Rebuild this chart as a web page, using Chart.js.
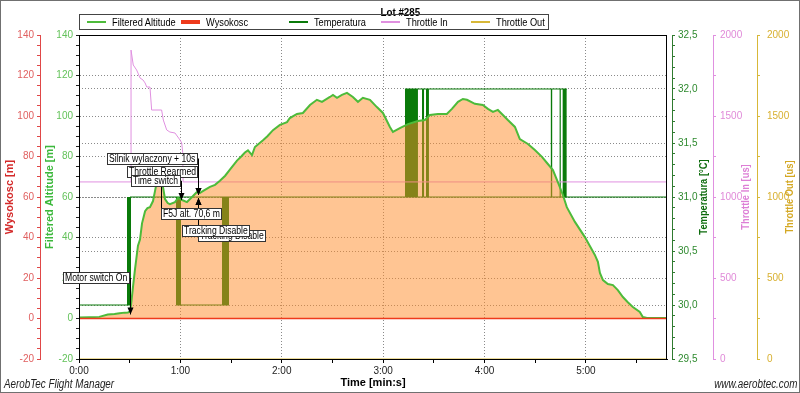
<!DOCTYPE html>
<html>
<head>
<meta charset="utf-8">
<script src="https://cdn.jsdelivr.net/npm/chart.js@4.4.1/dist/chart.umd.min.js"></script>
<style>
  body { margin: 0; background: #fff; }
  #wrap { position: relative; width: 800px; height: 393px; overflow: hidden;
          font-family: 'Liberation Sans', Arial, sans-serif; }
  #frame { position: absolute; left: 0; top: 0; width: 798px; height: 391px; border: 1px solid #707070; pointer-events: none; }
  #title { position: absolute; left: 0; width: 800px; top: 2px; text-align: center; }
  #title span { display: inline-block; font-weight: bold; font-size: 11.5px; transform: scaleX(0.85); }
  #legend { position: absolute; left: 79px; top: 14px; width: 468px; height: 14px; border: 1px solid #444; }
  .item { position: absolute; top: 0; height: 14px; font-size: 11px; line-height: 14px; white-space: nowrap; }
  .item i { position: absolute; left: 0; width: 19px; }
  .item span { position: absolute; left: 25px; transform: scaleX(0.84); transform-origin: 0 50%; }
  .rtitle { position: absolute; top: 197px; font-size: 11px; font-weight: bold; white-space: nowrap;
            transform: translate(-50%, -50%) rotate(-90deg) scaleX(0.85); }
  .foot { position: absolute; top: 377px; font-size: 12px; font-style: italic; color: #222; white-space: nowrap; }
</style>
</head>
<body>
<div id="wrap">
  <canvas id="chart" width="800" height="393"></canvas>
  <div id="title"><span>Lot #285</span></div>
  <div id="legend"></div>
  <div class="rtitle" style="left:703px;color:#0d6b0d">Temperatura [°C]</div>
  <div class="rtitle" style="left:745px;color:#dd7fd6">Throttle In [us]</div>
  <div class="rtitle" style="left:789px;color:#d4a824">Throttle Out [us]</div>
  <div class="foot" style="left:4px;transform:scaleX(0.82);transform-origin:0 0">AerobTec Flight Manager</div>
  <div class="foot" style="right:3px;transform:scaleX(0.82);transform-origin:100% 0">www.aerobtec.com</div>
  <div id="frame"></div>
</div>
<script>
const FONT = "'Liberation Sans', Arial, sans-serif";

// time in seconds
const altTime = [0, 6, 12, 17, 21, 24, 27, 29, 30.2, 30.8, 32, 33.1, 34.9, 36.1, 37.3, 39.1, 40.5, 42, 43.8, 45,
  46.7, 48.2, 49.7, 50.9, 52.5, 53.8, 56.8, 58.6, 61, 63.9, 66.9, 69.8, 71.6, 74.5, 77.5, 80.5, 83.4, 86.5, 89.3,
  93.5, 96, 98.2, 100, 102.4, 104.1, 108.9, 111.5, 114.8, 118.9, 123.1, 124.8, 129, 132.5, 136.7, 140.8, 143.8,
  148.5, 150.3, 152.7, 155.6, 158.6, 162.1, 165.1, 168, 172.2, 176.3, 179.9, 184, 185.8, 189.9, 194.7, 200.6,
  204.7, 207.7, 212.4, 217.7, 220.7, 224.3, 227.2, 229.6, 234.3, 239, 242, 245, 247.9, 250.3, 253.8, 258, 260.9,
  265.7, 269.8, 274, 277.5, 280.5, 283.4, 286.4, 288.7, 293.5, 299.4, 305.3, 307.1, 308.3, 310.1, 313, 316,
  318.9, 321.9, 324.8, 327.8, 331.9, 333.7, 336.1, 348];
const altValue = [0.5, 0.6, 0.8, 2, 2.2, 2.6, 2.9, 3, 3.5, 6.7, 16, 24, 36, 39, 47, 53, 54.5, 55, 58, 63,
  70, 71.6, 65, 59, 57, 56.5, 57.5, 59.5, 58.5, 57.5, 60, 62.5, 62, 63.5, 65, 66, 68, 70.5, 73.5,
  78, 80, 82, 83, 80.7, 84.7, 88, 90, 93, 95.6, 97, 99, 101, 101.5, 105.4, 108, 107,
  109.4, 110.4, 109, 110.4, 111.4, 109.4, 107, 109, 108, 104.4, 101.5, 94.6, 92.1, 94, 96, 97.5,
  98, 100.5, 101, 101, 103.5, 107, 108.4, 108, 106, 105.4, 103.5, 102, 103, 101, 98, 94.6, 88.6,
  86.2, 83.2, 79.8, 76.3, 73.3, 67.4, 61, 55, 47.7, 40.2, 31.4, 28, 22.5, 19, 17, 16.5,
  14, 10.6, 8, 5.7, 3.2, 0.7, 0.2, 0.2];

const wysTime = [0, 348];
const wysValue = [0, 0];

const tempTime = [0, 30.2, 30.2, 348];
const tempValue = [30, 30, 31, 31];
// second level of the temperature trace
const tempExtraTime = [57.4, 88.8, 88.8, 192.9, 288.7];
const tempExtraValue = [30, 30, null, 32, 32];
// dense switching between levels
const lowBandStart = [28.4, 57.4, 84.6];
const lowBandEnd = [30.8, 60.4, 88.8];
const highBandStart = [192.9, 203, 205.3, 279.1, 284.3, 286.1];
const highBandEnd = [200.6, 204.3, 207.1, 280.2, 285.2, 288.7];

const thrInTime = [0, 30.8, 30.8, 32.1, 34.1, 34.9, 36.1, 37.9, 39.1, 40.1, 42, 43, 48.9, 49.9, 51.9, 53.8,
  56.8, 59.8, 60.8, 61.4, 61.6, 348];
const thrInValue = [1093, 1093, 1907, 1815, 1784, 1765, 1735, 1722, 1704, 1679, 1679, 1537, 1537, 1475, 1414, 1401,
  1395, 1352, 1333, 1272, 1093, 1093];

const thrOutTime = [0, 348];
const thrOutValue = [0, 0];

const timeTickLabels = ['0:00', '1:00', '2:00', '3:00', '4:00', '5:00'];

const eventNames = ['Motor switch On', 'Silnik wylaczony + 10s', 'Throttle Rearmed', 'Time switch',
  'F5J alt. 70,6 m', 'Tracking Disable', 'Tracking Disable'];
const eventTimes = [30.2, 70.4, 70.4, 60.6, 48.3, 70.6, 70.6];
const eventAltitudes = [2, 61, 61, 58.5, 70.6, 59.5, 59.5];

const seriesNames = ['Filtered Altitude', 'Wysokosc', 'Temperatura', 'Throttle In', 'Throttle Out'];
const seriesColors = ['#4dbb3a', '#ee3a1c', '#0a7a0a', '#e090e0', '#d8b838'];

function pts(xs, ys) { return xs.map((x, i) => ({ x: x, y: ys[i] })); }
function bandPts(starts, ends, level) {
  const out = [];
  starts.forEach((s, i) => { out.push({ x: s, y: level }, { x: ends[i], y: level }, { x: ends[i], y: null }); });
  return out;
}

const base = { pointRadius: 0, tension: 0, fill: false, spanGaps: false };

const datasets = [
  { ...base, label: seriesNames[0], data: pts(altTime, altValue), yAxisID: 'yAlt',
    borderColor: seriesColors[0], borderWidth: 2, fill: 'origin', backgroundColor: 'rgba(255,140,40,0.5)' },
  { ...base, label: seriesNames[1], data: pts(wysTime, wysValue), yAxisID: 'yRed', order: -1,
    borderColor: seriesColors[1], borderWidth: 1.5 },
  { ...base, label: seriesNames[2], data: pts(tempTime, tempValue), yAxisID: 'yTemp',
    borderColor: seriesColors[2], borderWidth: 1 },
  { ...base, label: seriesNames[3], data: pts(thrInTime, thrInValue), yAxisID: 'yThrIn',
    borderColor: seriesColors[3], borderWidth: 1 },
  { ...base, label: seriesNames[4], data: pts(thrOutTime, thrOutValue), yAxisID: 'yThrOut',
    borderColor: seriesColors[4], borderWidth: 1 },
  { ...base, label: 'temp2', data: pts(tempExtraTime, tempExtraValue), yAxisID: 'yTemp',
    borderColor: seriesColors[2], borderWidth: 1 },
  { ...base, label: 'tempLow', data: bandPts(lowBandStart, lowBandEnd, 30), yAxisID: 'yTemp',
    borderWidth: 0, borderColor: 'rgba(0,0,0,0)', fill: { value: 31 }, backgroundColor: seriesColors[2] },
  { ...base, label: 'tempHigh', data: bandPts(highBandStart, highBandEnd, 32), yAxisID: 'yTemp',
    borderWidth: 0, borderColor: 'rgba(0,0,0,0)', fill: { value: 31 }, backgroundColor: seriesColors[2] }
];

// legend
const legend = document.getElementById('legend');
const legendLeft = [7, 101, 209, 301, 391];
const legendThick = [2, 4, 1.5, 1.5, 1.5];
seriesNames.forEach((n, i) => {
  const d = document.createElement('div');
  d.className = 'item';
  d.style.left = legendLeft[i] + 'px';
  d.innerHTML = '<i style="top:' + (7 - legendThick[i] / 2) + 'px;height:' + legendThick[i] + 'px;background:' +
    seriesColors[i] + '"></i><span>' + n + '</span>';
  legend.appendChild(d);
});

const clear = 'rgba(0,0,0,0)';
const isHalf = v => Math.abs(v * 2 - Math.round(v * 2)) < 1e-6;

const annotations = {
  id: 'annotations',
  afterDatasetsDraw(chart) {
    const ctx = chart.ctx, xs = chart.scales.x, ys = chart.scales.yAlt;
    const layout = [
      { labelAlt: 20, align: 'right', dx: 0 },
      { labelAlt: 79, align: 'right', dx: 0 },
      { labelAlt: 72.3, align: 'right', dx: 0 },
      { labelAlt: 68, align: 'right', dx: 0 },
      { labelAlt: 51.6, align: 'left', dx: 0 },
      { labelAlt: 40.7, align: 'left', dx: 0 },
      { labelAlt: 43.2, align: 'left', dx: -16 }
    ];
    const squeeze = 0.82;
    ctx.save();
    // frame
    const a = chart.chartArea;
    ctx.strokeStyle = '#000';
    ctx.lineWidth = 1;
    ctx.strokeRect(Math.round(a.left) + 0.5, Math.round(a.top) + 0.5, Math.round(a.right - a.left) - 1, Math.round(a.bottom - a.top));
    ctx.font = '10.5px ' + FONT;
    ctx.textBaseline = 'middle';
    eventNames.forEach((n, i) => {
      const x = Math.round(xs.getPixelForValue(eventTimes[i])) + 0.5;
      const yt = ys.getPixelForValue(eventAltitudes[i]);
      const yl = ys.getPixelForValue(layout[i].labelAlt);
      ctx.strokeStyle = '#000';
      ctx.beginPath(); ctx.moveTo(x, yl); ctx.lineTo(x, yt); ctx.stroke();
      const dir = yt > yl ? -1 : 1;
      ctx.fillStyle = '#000';
      ctx.beginPath(); ctx.moveTo(x, yt); ctx.lineTo(x - 3, yt + dir * 7); ctx.lineTo(x + 3, yt + dir * 7); ctx.closePath(); ctx.fill();
    });
    eventNames.forEach((n, i) => {
      const x = Math.round(xs.getPixelForValue(eventTimes[i]));
      const yl = Math.round(ys.getPixelForValue(layout[i].labelAlt));
      const w = Math.ceil(ctx.measureText(n).width * squeeze) + 4;
      const bx = (layout[i].align === 'right' ? x - w : x) + layout[i].dx;
      ctx.fillStyle = '#fff';
      ctx.fillRect(bx, yl - 6, w, 12);
      ctx.strokeStyle = '#333';
      ctx.strokeRect(bx + 0.5, yl - 5.5, w - 1, 11);
      ctx.fillStyle = '#000';
      ctx.save();
      ctx.translate(bx + 2, yl + 0.5);
      ctx.scale(squeeze, 1);
      ctx.fillText(n, 0, 0);
      ctx.restore();
    });
    ctx.restore();
  }
};

const tickFont = { family: FONT, size: 10 };
const titleFont = { family: FONT, size: 11, weight: 'bold' };

new Chart(document.getElementById('chart'), {
  type: 'line',
  data: { datasets: datasets },
  options: {
    responsive: false,
    animation: false,
    devicePixelRatio: 1,
    layout: { padding: { top: 35, bottom: 0, left: 0, right: 0 } },
    plugins: { legend: { display: false }, title: { display: false }, tooltip: { enabled: false } },
    scales: {
      x: {
        type: 'linear', min: 0, max: 348,
        ticks: { stepSize: 30, autoSkip: false, includeBounds: false, maxRotation: 0, color: '#222', font: tickFont, padding: 2,
          callback: v => (v % 60 === 0 ? timeTickLabels[v / 60] : '') },
        grid: { color: c => (c.tick && c.tick.value % 60 === 0 && c.tick.value > 0 ? '#8a8a8a' : clear),
          tickColor: '#000', tickLength: 4 },
        border: { color: '#000', dash: [1, 2], z: 1 },
        title: { display: true, text: 'Time [min:s]', color: '#000', font: titleFont, padding: { top: 2, bottom: 3 } },
        afterFit: s => { s.height = 34; }
      },
      yAlt: {
        type: 'linear', position: 'left', weight: 0, min: -20, max: 140,
        ticks: { stepSize: 5, autoSkip: false, color: '#63c25a', font: tickFont, padding: 3,
          callback: v => (v % 20 === 0 ? String(v) : '') },
        grid: { color: c => (c.tick && c.tick.value % 20 === 0 && c.tick.value > -20 && c.tick.value < 140 ? '#8a8a8a' : clear),
          tickColor: '#222', tickLength: 3 },
        border: { color: '#000', dash: [1, 2] },
        title: { display: true, text: 'Filtered Altitude [m]', color: '#3cb83c', font: titleFont, padding: { top: 3, bottom: 0 } },
        afterFit: s => { s.width = 39; }
      },
      yRed: {
        type: 'linear', position: 'left', weight: 1, min: -20, max: 140,
        ticks: { stepSize: 5, autoSkip: false, color: '#e06060', font: tickFont, padding: 3,
          callback: v => (v % 20 === 0 ? String(v) : '') },
        grid: { drawOnChartArea: false, color: '#e04848', tickLength: 3 },
        border: { color: '#e04848' },
        title: { display: true, text: 'Wysokosc [m]', color: '#d42a2a', font: titleFont, padding: { top: 3, bottom: 0 } },
        afterFit: s => { s.width = 40; }
      },
      yPad: {
        type: 'linear', position: 'right', weight: 0, display: true,
        ticks: { display: false }, grid: { display: false }, border: { display: false },
        afterFit: s => { s.width = 5; }
      },
      yTemp: {
        type: 'linear', position: 'right', weight: 1, min: 29.5, max: 32.5,
        ticks: { stepSize: 0.1, autoSkip: false, color: '#2f8a2f', font: tickFont, padding: 3,
          callback: v => (isHalf(v) ? v.toFixed(1).replace('.', ',') : '') },
        grid: { color: c => (c.tick && isHalf(c.tick.value) && c.tick.value > 29.6 && c.tick.value < 32.4 ? '#8a8a8a' : clear),
          tickColor: '#2f7a2f', tickLength: 3 },
        border: { color: '#2f7a2f', dash: [1, 2] },
        title: { display: false },
        afterFit: s => { s.width = 41; }
      },
      yThrIn: {
        type: 'linear', position: 'right', weight: 2, min: 0, max: 2000,
        ticks: { stepSize: 250, autoSkip: false, color: '#e08ad8', font: tickFont, padding: 4,
          callback: v => (v % 500 === 0 ? String(v) : '') },
        grid: { drawOnChartArea: false, color: '#e090e0', tickLength: 3 },
        border: { color: '#e090e0' },
        title: { display: false },
        afterFit: s => { s.width = 44; }
      },
      yThrOut: {
        type: 'linear', position: 'right', weight: 3, min: 0, max: 2000,
        ticks: { stepSize: 250, autoSkip: false, color: '#d8b030', font: tickFont, padding: 7,
          callback: v => (v % 500 === 0 ? String(v) : '') },
        grid: { drawOnChartArea: false, color: '#d8b838', tickLength: 3 },
        border: { color: '#d8b838' },
        title: { display: false },
        afterFit: s => { s.width = 43; }
      }
    }
  },
  plugins: [annotations]
});
</script>
</body>
</html>
